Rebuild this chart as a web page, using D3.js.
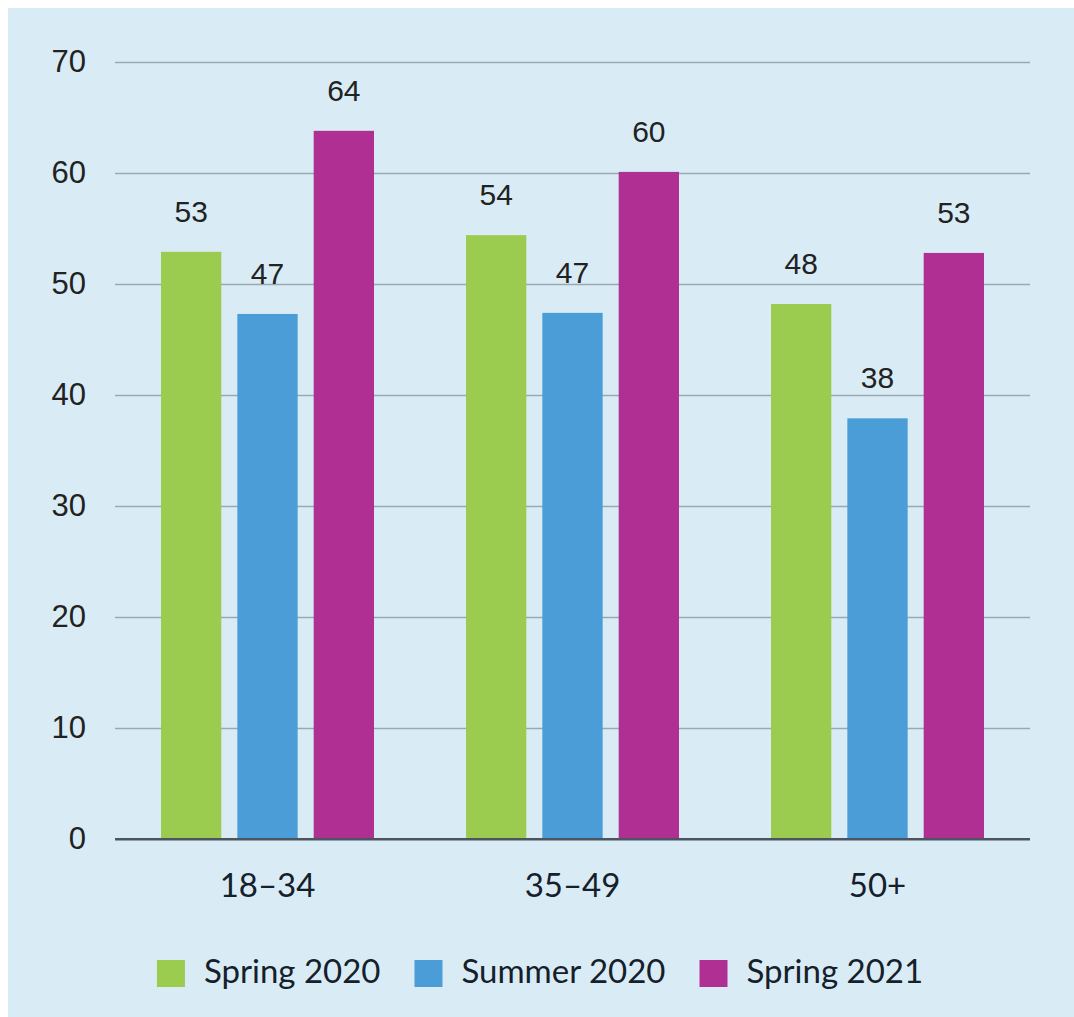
<!DOCTYPE html>
<html>
<head>
<meta charset="utf-8">
<script src="https://cdn.jsdelivr.net/npm/d3@7"></script>
<style>
  html, body { margin: 0; padding: 0; background: #fff; }
  svg { display: block; }
</style>
</head>
<body>
<svg id="chart" width="1074" height="1017"></svg>
<script>
const ageGroups = ['18–34', '35–49', '50+']
const seriesNames = ['Spring 2020', 'Summer 2020', 'Spring 2021']
const spring2020 = [52.9, 54.4, 48.2]
const summer2020 = [47.3, 47.4, 37.9]
const spring2021 = [63.8, 60.1, 52.8]
const yTicks = [0, 10, 20, 30, 40, 50, 60, 70]

const COLORS = ['#9bcb4f', '#4a9dd6', '#b02f93']
const WIDTH = 1074
const HEIGHT = 1017

const svg = d3.select('#chart')

// panel background
svg.append('rect')
  .attr('x', 8).attr('y', 8)
  .attr('width', WIDTH - 8).attr('height', HEIGHT - 8)
  .attr('fill', '#d9ecf6')

const x0 = d3.scaleBand().domain(ageGroups).range([115, 1030])
const x1 = d3.scaleBand().domain(seriesNames).range([46, 259]).paddingInner(0.21)
const y = d3.scaleLinear().domain([0, 70]).range([839, 62])

const seriesValues = [spring2020, summer2020, spring2021]
const rows = ageGroups.map((g, i) => ({
  group: g,
  values: seriesNames.map((s, j) => ({ series: s, value: seriesValues[j][i], color: COLORS[j] })),
}))

// grid
const yAxis = svg.append('g')
  .attr('transform', 'translate(115,0)')
  .call(d3.axisLeft(y).tickValues(yTicks).tickSize(-915).tickPadding(29))
yAxis.select('.domain').remove()
yAxis.selectAll('.tick line')
  .attr('stroke', d => d === 0 ? '#4a5560' : '#9aa8b2')
  .attr('stroke-width', d => d === 0 ? 2 : 1.3)
yAxis.selectAll('.tick text')
  .attr('font-family', '"Liberation Sans", Arial, sans-serif')
  .attr('font-size', 31)
  .attr('fill', '#222')

// bars
const groups = svg.append('g')
  .selectAll('g')
  .data(rows)
  .join('g')
  .attr('transform', d => `translate(${x0(d.group)},0)`)

groups.selectAll('rect')
  .data(d => d.values)
  .join('rect')
  .attr('x', d => x1(d.series))
  .attr('width', x1.bandwidth())
  .attr('y', d => y(d.value))
  .attr('height', d => y(0) - y(d.value))
  .attr('fill', d => d.color)

groups.selectAll('text')
  .data(d => d.values)
  .join('text')
  .attr('x', d => x1(d.series) + x1.bandwidth() / 2)
  .attr('y', d => y(d.value) - 30)
  .attr('text-anchor', 'middle')
  .attr('font-family', '"Liberation Sans", Arial, sans-serif')
  .attr('font-size', 30)
  .attr('fill', '#222')
  .text(d => Math.round(d.value))

// redraw baseline over bars
svg.append('line')
  .attr('x1', 115).attr('x2', 1030)
  .attr('y1', y(0)).attr('y2', y(0))
  .attr('stroke', '#4a5560').attr('stroke-width', 2)

// category labels
const xAxis = svg.append('g')
  .attr('transform', `translate(0,${y(0)})`)
  .call(d3.axisBottom(x0).tickSize(0).tickPadding(35))
xAxis.select('.domain').remove()
xAxis.selectAll('.tick text')
  .attr('font-family', 'Lato, "Open Sans", sans-serif')
  .attr('font-size', 33)
  .attr('fill', '#15202b')

// legend
const legend = svg.append('g')
const items = legend.selectAll('g')
  .data(seriesNames)
  .join('g')
items.append('rect')
  .attr('width', 28).attr('height', 27)
  .attr('y', 960)
  .attr('fill', (d, i) => COLORS[i])
items.append('text')
  .attr('x', 47)
  .attr('y', 983)
  .attr('font-family', 'Lato, "Open Sans", sans-serif')
  .attr('font-size', 33)
  .attr('fill', '#15202b')
  .text(d => d)

let cursor = 0
items.each(function() {
  const w = 47 + d3.select(this).select('text').node().getComputedTextLength()
  d3.select(this).attr('transform', `translate(${cursor},0)`)
  cursor += w + 34
})
const total = cursor - 34
legend.attr('transform', `translate(${540 - total / 2},0)`)
</script>
</body>
</html>
